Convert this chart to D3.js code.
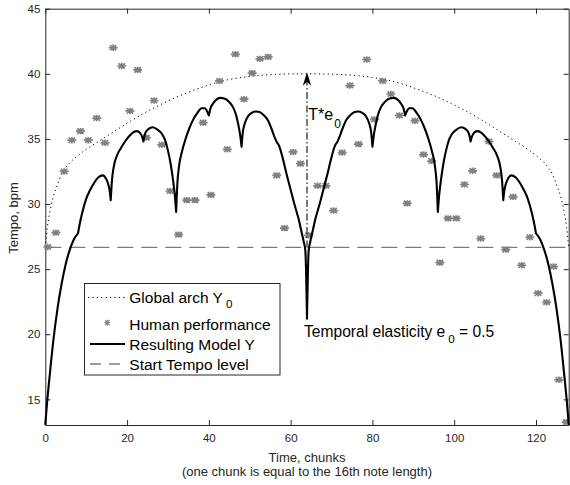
<!DOCTYPE html>
<html><head><meta charset="utf-8">
<script src="https://cdn.jsdelivr.net/npm/d3@7"></script>
<style>body{margin:0;background:#fff}svg{display:block}</style>
</head><body>
<svg id="c" width="570" height="485"></svg>
<script>
// ---------- data ----------
const xTicks = [0, 20, 40, 60, 80, 100, 120];
const yTicks = [15, 20, 25, 30, 35, 40, 45];
const startTempo = 26.67;
const arrowAt = 64, arrowFrom = 26.67, arrowTo = 40;

const archT = [0,0.2,0.5,1,2,3,4,5.5,7.5,10,13,16,20,24,28,32,36,40,44,48,52,56,60,64,
  68,72,76,80,84,88,92,96,100,104,108,112,115,118,120.5,122.5,124,125,126,127,127.5,127.8,128];
const archY = [26.67,27.3,28.2,29.2,30.6,31.5,32.3,33.0,33.6,34.2,34.8,35.4,36.2,36.95,37.6,38.2,38.7,39.15,39.5,39.72,39.87,39.95,39.99,40.0,
  39.99,39.95,39.87,39.72,39.5,39.15,38.7,38.2,37.6,36.95,36.2,35.4,34.8,34.2,33.6,33.0,32.3,31.5,30.6,29.2,28.2,27.3,26.67];

const modelT = [0,0.5,1,2,3,4,5,6,7,8,
  8.5,9,10,11,12,13,14,15,15.5,15.8,16,
  16.3,16.7,17.5,18.5,19.5,20.5,21.5,22.4,23.2,23.7,24,
  24.4,25.2,26.3,27.5,28.5,29.3,30,30.7,31.3,31.7,32,
  32.3,32.7,33.4,34.2,35.2,36.2,37.2,38.2,39,39.6,40,
  40.4,41.1,42,42.8,43.8,44.8,45.8,46.6,47.2,47.6,48,
  48.3,48.8,49.6,50.5,51.5,52.5,53.5,54.5,55.3,56,56.6,
  57.2,58,59,60,61,62,62.7,63.2,63.6,64,
  64.4,64.8,65.3,66,67,68,69,70,70.8,71.4,
  72,72.7,73.5,74.5,75.5,76.5,77.5,78.4,79.2,79.7,80,
  80.4,80.8,81.4,82.2,83.2,84.2,85.2,86,86.9,87.6,88,
  88.4,89,89.8,90.8,91.8,92.8,93.8,94.6,95.3,95.7,96,
  96.3,96.7,97.3,98,98.7,99.5,100.5,101.7,102.8,103.6,104,
  104.3,104.8,105.6,106.5,107.5,108.5,109.5,110.5,111.3,111.7,112,
  112.2,112.5,113,114,115,116,117,118,119,119.5,120,
  121,122,123,124,125,126,127,127.5,128];
const modelY = [13.1,15.0,16.6,19.6,22.0,23.9,25.4,26.5,27.3,27.75,
  28.6,29.3,30.4,31.1,31.65,32.05,32.2,31.85,31.4,30.9,30.3,
  31.8,32.8,33.7,34.3,34.8,35.2,35.5,35.6,35.45,35.15,34.8,
  35.4,35.75,35.9,35.7,35.4,34.9,34.1,33.0,31.7,30.6,29.4,
  31.6,32.9,34.0,34.9,35.8,36.5,37.0,37.35,37.35,37.1,36.8,
  37.35,37.75,38.05,38.15,38.1,37.9,37.5,36.9,36.1,35.4,34.4,
  35.5,36.2,36.75,37.0,37.1,37.05,36.8,36.4,35.8,35.2,34.75,
  34.45,33.6,32.3,31.1,29.9,28.8,27.8,27.1,26.4,21.2,
  26.4,27.1,27.8,28.8,29.9,31.1,32.3,33.6,34.45,34.75,
  35.2,35.8,36.4,36.8,37.05,37.1,37.0,36.75,36.2,35.5,34.4,
  35.4,36.1,36.9,37.5,37.9,38.1,38.15,38.05,37.75,37.35,36.8,
  37.1,37.35,37.35,37.0,36.5,35.8,34.9,34.0,32.9,31.6,29.4,
  30.6,31.7,33.0,34.1,34.9,35.4,35.7,35.9,35.75,35.4,34.8,
  35.15,35.45,35.6,35.5,35.2,34.8,34.3,33.7,32.8,31.8,30.3,
  30.9,31.4,31.85,32.2,32.05,31.65,31.1,30.4,29.3,28.6,27.75,
  27.3,26.5,25.4,23.9,22.0,19.6,16.6,15.0,13.1];
const cuspT = [8,16,24,32,40,48,56.6,64,71.4,80,88,96,104,112,120];

const perfT = [0.6,2.6,4.6,6.5,8.6,10.5,12.6,14.6,16.6,18.7,20.7,22.6,24.7,26.6,28.5,30.5,32.6,34.6,36.6,38.6,
  40.5,42.6,44.5,46.5,48.6,50.6,52.5,54.5,56.6,58.5,60.6,62.4,64.4,66.6,68.6,70.5,72.6,74.5,76.6,78.6,
  80.5,82.5,84.5,86.6,88.5,90.4,92.5,94.5,96.5,98.5,100.5,102.5,104.5,106.5,108.5,110.4,112.6,114.4,116.5,118.5,
  120.5,122.6,124.3,125.6,127.4];
const perfY = [26.7,27.8,32.5,34.9,35.6,34.9,36.6,34.7,42.0,40.6,37.15,40.3,35.1,37.95,34.55,31.0,27.65,30.3,30.3,36.25,
  30.7,39.45,34.2,41.5,38.05,40.05,41.15,41.3,32.2,28.15,34.0,33.1,27.6,31.4,31.4,29.5,33.95,39.1,34.6,41.1,
  36.5,39.45,38.45,36.8,30.05,36.4,33.8,33.3,25.5,28.9,28.9,31.5,32.55,27.35,34.8,32.2,26.5,30.55,25.3,27.45,
  23.15,22.45,25.2,16.5,13.25];

const legendLabels = ["Global arch Y", "Human performance", "Resulting Model Y", "Start Tempo level"];

// ---------- drawing ----------
const FONT = "'Liberation Sans', Arial, Helvetica, sans-serif";
const AX = "#262626";
const svg = d3.select("#c").style("font-family", FONT);
const x = d3.scaleLinear().domain([0, 128]).range([45.3, 568.7]);
const y = d3.scaleLinear().domain([13.03, 45]).range([425, 8.7]);

function styleAxis(g){
  g.selectAll("path.domain").attr("stroke", AX).attr("stroke-width", 1);
  g.selectAll(".tick line").attr("stroke", AX).attr("stroke-width", 1);
  g.selectAll(".tick text").attr("fill", AX).style("font-size", "11.5px").style("font-family", FONT);
}
svg.append("g").attr("transform", `translate(0,${y.range()[0]})`)
  .call(d3.axisBottom(x).tickValues(xTicks).tickSizeInner(-5).tickSizeOuter(0).tickPadding(9))
  .call(styleAxis);
svg.append("g").attr("transform", `translate(0,${y.range()[1]})`)
  .call(d3.axisTop(x).tickValues(xTicks).tickSizeInner(-5).tickSizeOuter(0).tickFormat(""))
  .call(styleAxis);
svg.append("g").attr("transform", `translate(${x.range()[0]},0)`)
  .call(d3.axisLeft(y).tickValues(yTicks).tickSizeInner(-5).tickSizeOuter(0).tickPadding(5))
  .call(styleAxis);
svg.append("g").attr("transform", `translate(${x.range()[1]},0)`)
  .call(d3.axisRight(y).tickValues(yTicks).tickSizeInner(-5).tickSizeOuter(0).tickFormat(""))
  .call(styleAxis);

svg.append("text").attr("transform", "translate(17.5,218) rotate(-90)")
  .attr("text-anchor", "middle").attr("fill", AX).style("font-size", "13px").text("Tempo, bpm");
svg.append("text").attr("x", 307).attr("y", 462).attr("text-anchor", "middle")
  .attr("fill", AX).style("font-size", "13px").text("Time, chunks");
svg.append("text").attr("x", 307).attr("y", 475.5).attr("text-anchor", "middle")
  .attr("fill", AX).style("font-size", "13px").text("(one chunk is equal to the 16th note length)");

const plot = svg.append("g");

plot.append("line").attr("x1", x(0)).attr("x2", x(128))
  .attr("y1", y(startTempo)).attr("y2", y(startTempo))
  .attr("stroke", "#7a7a7a").attr("stroke-width", 1.3).attr("stroke-dasharray", "16,8");

const archLine = d3.line().x((d,i)=>x(archT[i])).y(d=>y(d)).curve(d3.curveMonotoneX);
plot.append("path").attr("d", archLine(archY)).attr("fill", "none")
  .attr("stroke", "#000").attr("stroke-width", 1).attr("stroke-dasharray", "1.2,3.2");

function star(cx, cy, a, b){
  const c = a*0.72, e = b*0.82;
  return `M${cx-a},${cy}L${cx+a},${cy}M${cx},${cy-b}L${cx},${cy+b}` +
         `M${cx-c},${cy-e}L${cx+c},${cy+e}M${cx-c},${cy+e}L${cx+c},${cy-e}`;
}
plot.append("g").selectAll("path").data(perfT).join("path")
  .attr("d", (t,i)=>star(x(t), y(perfY[i]), 4.5, 3.2))
  .attr("stroke", "#808080").attr("stroke-width", 1.7).attr("fill", "none");

const pts = modelT.map((t,i)=>[t, modelY[i]]);
const bounds = [0, ...cuspT, 128];
const segLine = d3.line().x(d=>x(d[0])).y(d=>y(d[1])).curve(d3.curveMonotoneX);
let dStr = "";
for (let s = 0; s < bounds.length-1; s++){
  const seg = pts.filter(p => p[0] >= bounds[s]-1e-9 && p[0] <= bounds[s+1]+1e-9);
  let ds = segLine(seg);
  if (s > 0) ds = "L" + ds.slice(1);
  dStr += ds;
}
plot.append("path").attr("d", dStr).attr("fill", "none").attr("stroke", "#000")
  .attr("stroke-width", 2.1).attr("stroke-linejoin", "round").attr("stroke-linecap", "round");

const ax = x(arrowAt), ay0 = y(arrowFrom), ay1 = y(arrowTo);
plot.append("line").attr("x1", ax).attr("x2", ax).attr("y1", ay0).attr("y2", ay1+8)
  .attr("stroke", "#222").attr("stroke-width", 1.2).attr("stroke-dasharray", "7,2.5,1.5,2.5");
plot.append("path").attr("d", `M${ax},${ay1-1.5}L${ax-4.2},${ay1+12}L${ax},${ay1+8}L${ax+4.2},${ay1+12}Z`)
  .attr("fill", "#000");

const te = svg.append("text").attr("x", 308.3).attr("y", 120).attr("fill", "#000").style("font-size", "16px");
te.append("tspan").text("T*e");
te.append("tspan").attr("dx", 1).attr("dy", 8).style("font-size", "12px").text("0");

const el = svg.append("text").attr("x", 304).attr("y", 337.3).attr("fill", "#000").style("font-size", "15.6px");
el.append("tspan").text("Temporal elasticity e");
el.append("tspan").attr("dx", 3).attr("dy", 6).style("font-size", "11.7px").text("0");
el.append("tspan").attr("dx", 0).attr("dy", -6).text(" = 0.5");

const lg = svg.append("g");
lg.append("rect").attr("x", 84.5).attr("y", 283.5).attr("width", 195.5).attr("height", 91.5)
  .attr("fill", "#fff").attr("stroke", AX).attr("stroke-width", 1);
const rowsY = [303.3, 330, 350, 370];
const symY = [297.5, 322.7, 344, 364];
lg.append("line").attr("x1", 88).attr("x2", 125).attr("y1", symY[0]).attr("y2", symY[0])
  .attr("stroke", "#000").attr("stroke-dasharray", "1.2,3.2");
lg.append("path").attr("d", star(107.3, symY[1], 3, 3)).attr("stroke", "#8a8a8a")
  .attr("stroke-width", 1.3).attr("fill", "none");
lg.append("line").attr("x1", 90).attr("x2", 125).attr("y1", symY[2]).attr("y2", symY[2])
  .attr("stroke", "#000").attr("stroke-width", 2.1);
lg.append("line").attr("x1", 90).attr("x2", 121).attr("y1", symY[3]).attr("y2", symY[3])
  .attr("stroke", "#7a7a7a").attr("stroke-width", 1.3).attr("stroke-dasharray", "11,8");
legendLabels.forEach((lab, i) => {
  const t = lg.append("text").attr("x", 129.3).attr("y", rowsY[i]).attr("fill", "#000").style("font-size", "15.5px");
  t.append("tspan").text(lab);
  if (i === 0) t.append("tspan").attr("dx", 3).attr("dy", 5).style("font-size", "11.6px").text("0");
});
</script>
</body></html>
